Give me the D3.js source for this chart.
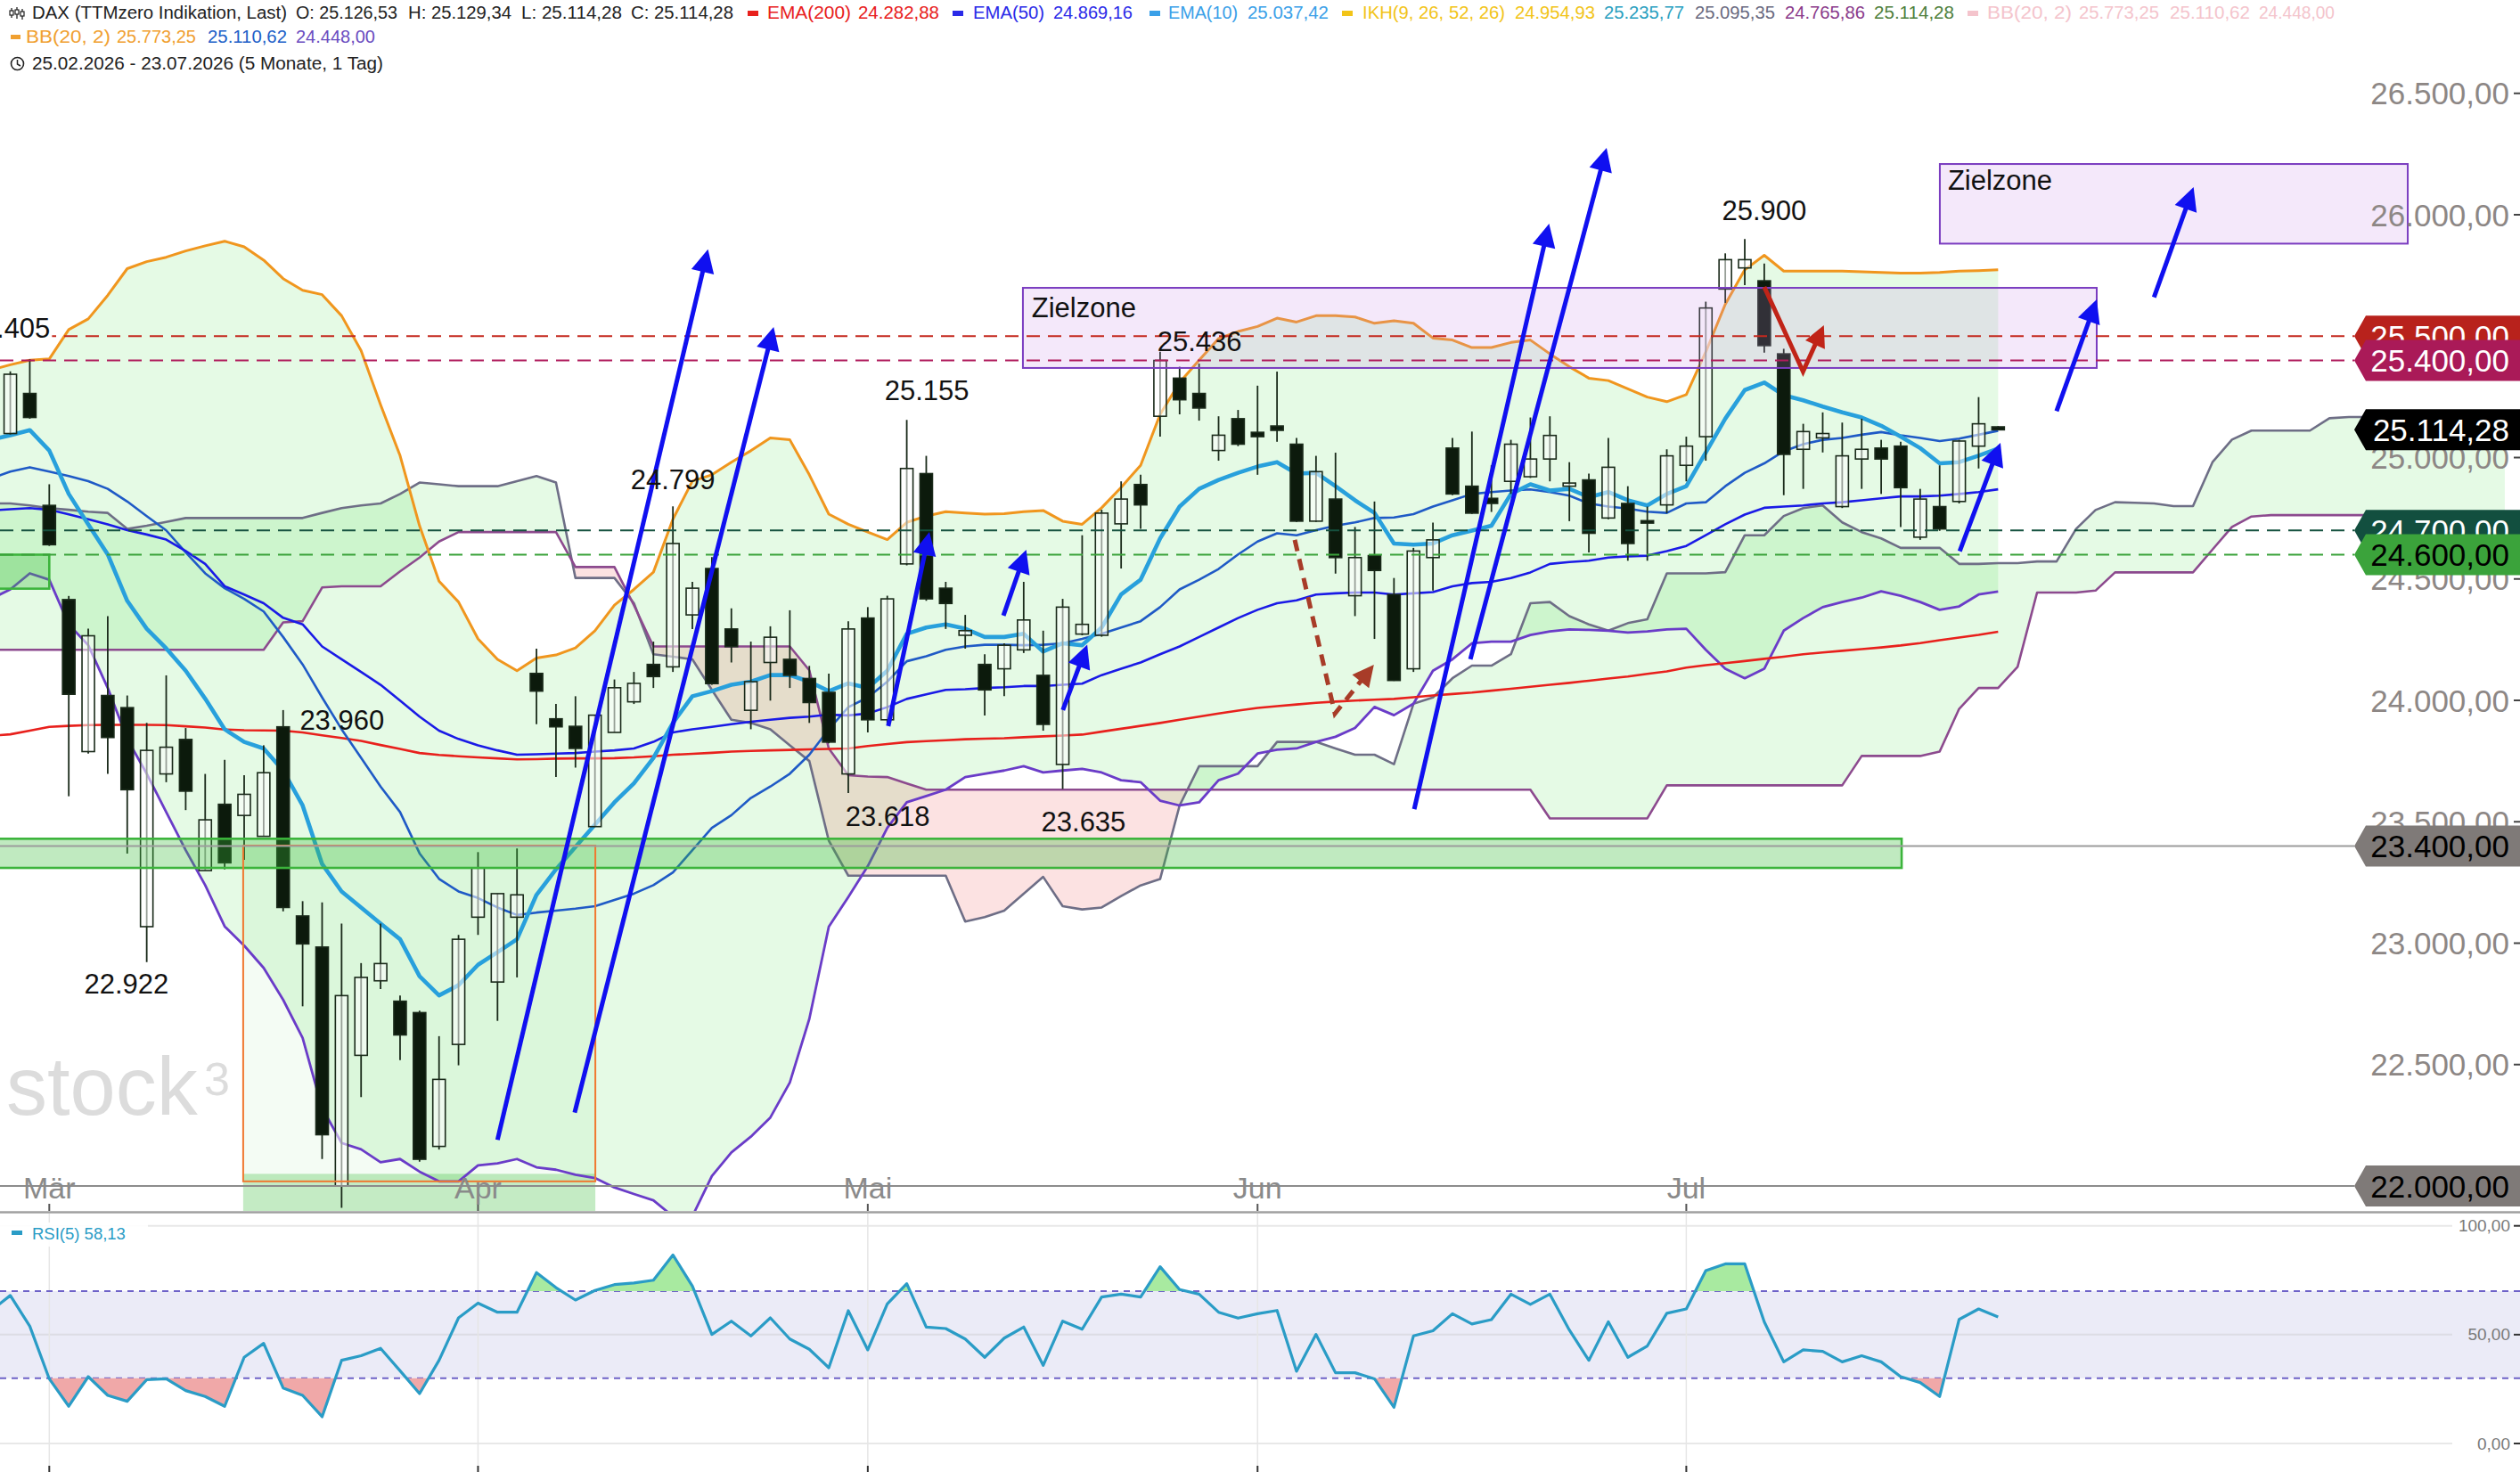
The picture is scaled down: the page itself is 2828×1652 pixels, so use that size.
<!DOCTYPE html>
<html><head><meta charset="utf-8">
<script src="https://cdn.jsdelivr.net/npm/d3@7/dist/d3.min.js"></script>
<style>html,body{margin:0;padding:0;background:#fff;overflow:hidden}svg{display:block;font-family:"Liberation Sans",Arial,sans-serif}</style>
</head><body>
<svg id="chart" width="2828" height="1652" viewBox="0 0 2828 1652"></svg>
<script>
// ================= DATA =================
const monthTicks = [{label:"Mär",i:3},{label:"Apr",i:25},{label:"Mai",i:45},{label:"Jun",i:65},{label:"Jul",i:87}];

const opens = [25200,25099,25264,24803,24415,23789,24020,23970,23068,23697, 23839,23299,23572,23526,23440,23891,23112,22984,22000,22538, 22845,22761,22714,22163,22583,23107,22840,23107,24111,23924, 23893,23480,23868,23994,24148,24138,24352,24543,24294,23959, 24156,24169,24090,24033,23697,24339,23920,24562,24934,24462, 24268,24148,24130,24208,24103,23736,24273,24268,24727,24889, 25170,25327,25264,25029,25160,25104,25130,25055,24738,24829, 24431,24596,24436,24130,24588,25039,24882,24832,24902,24921, 24994,24882,24908,24751,24811,24740,24805,24968,25086,25694, 25781,25728,25427,25034,25081,24798,24994,25039,25047,24672, 24798,24819,25047,25126.53];
const highs = [25380,25355,25405,24890,24430,24295,24347,24020,23907,24103, 23886,23697,23755,23692,23815,23960,23173,23168,23081,22918, 23081,22784,22722,22617,23034,23375,23204,23390,24213,23985, 24017,23939,24086,24117,24242,24799,24488,24590,24379,24242, 24305,24371,24142,24110,24326,24384,24431,25155,25007,24488, 24352,24190,24235,24488,24287,24418,24680,24785,24902,24929, 25436,25374,25387,25170,25196,25296,25354,25081,25007,25020, 24714,24819,24504,24628,24732,25081,25107,24968,25073,25165, 25170,24981,24934,25081,24882,24798,25034,25086,25642,25841, 25900,25799,25448,25139,25186,25144,25160,25073,25065,24871, 24968,25073,25249,25129.34];
const lows = [25150,25095,25160,24636,23605,23781,23697,23369,22922,23663, 23548,23299,23304,23343,23440,23131,22740,22111,21910,22366, 22811,22518,22100,22150,22497,23034,22680,22859,23902,23684, 23723,23480,23868,23985,24051,24117,24294,24064,24156,23881, 23999,24051,23907,23823,23618,23868,23907,24556,24410,24294, 24213,23938,24017,24195,23875,23635,24268,24262,24543,24706, 25086,25178,25152,24987,25047,24929,25065,24735,24735,24522, 24347,24253,24080,24117,24452,24845,24768,24776,24850,24916, 24902,24738,24609,24746,24575,24575,24771,24902,24987,25637, 25710,25432,24845,24871,25021,24792,24871,24850,24714,24661, 24698,24811,24955,25114.28];
const closes = [25300,25343,25165,24641,24025,24266,23847,23632,23794,23807, 23626,23508,23331,23613,23702,23147,22997,22211,22784,22859, 22916,22622,22110,22439,23016,23309,23204,23199,24038,23891, 23802,23939,24052,24070,24098,24646,24462,24069,24221,24077, 24260,24103,23991,23828,24294,23920,24418,24955,24418,24399, 24287,24043,24227,24331,23901,24384,24313,24771,24829,24805, 25400,25238,25204,25092,25055,25086,25112,24738,24942,24588, 24588,24535,24082,24615,24661,24850,24771,24811,25055,24994, 25091,24895,24688,24960,24646,24730,25007,25047,25616,25815, 25815,25461,25013,25107,25099,25007,25034,24994,24876,24829, 24706,25068,25139,25114.28];

const ema200 = [23854,23860,23875,23891,23895,23898,23899,23899,23899,23898, 23893,23888,23880,23877,23876,23875,23868,23856,23845,23833, 23816,23800,23783,23775,23770,23765,23761,23757,23758,23760, 23761,23761,23762,23765,23770,23776,23780,23784,23789,23792, 23794,23796,23798,23800,23802,23812,23820,23828,23832,23836, 23840,23842,23844,23848,23852,23855,23859,23871,23883,23895, 23907,23920,23933,23946,23958,23969,23976,23983,23990,23995, 23999,24003,24006,24013,24020,24026,24032,24040,24048,24056, 24064,24072,24081,24090,24098,24109,24119,24135,24145,24153, 24162,24171,24180,24190,24197,24204,24211,24218,24226,24236, 24248,24259,24270,24282.88];
const ema50 = [24782,24787,24792,24785,24766,24746,24725,24701,24683,24662, 24615,24562,24470,24436,24400,24340,24313,24222,24169,24117, 24064,23999,23933,23875,23841,23815,23794,23776,23778,23781, 23783,23789,23794,23802,23829,23868,23881,23891,23902,23912, 23920,23928,23933,23941,23938,23946,23972,24006,24025,24043, 24046,24051,24054,24059,24059,24064,24069,24104,24130,24156, 24190,24222,24261,24300,24339,24373,24400,24412,24436,24441, 24444,24444,24436,24441,24446,24470,24483,24488,24504,24527, 24562,24570,24575,24588,24593,24596,24615,24636,24680,24725, 24765,24793,24798,24803,24811,24816,24824,24832,24840,24840, 24843,24850,24858,24869.16];
const ema10 = [25073,25092,25113,25029,24850,24725,24601,24410,24295,24214, 24122,24007,23881,23829,23802,23711,23567,23326,23213,23147, 23081,23016,22864,22785,22827,22911,22963,23016,23199,23304, 23396,23488,23580,23658,23763,23907,24017,24038,24064,24077, 24104,24104,24077,24038,24070,24051,24122,24274,24300,24313, 24295,24261,24261,24274,24201,24235,24227,24300,24436,24497, 24667,24798,24871,24908,24937,24963,24981,24934,24937,24882, 24824,24772,24646,24641,24646,24680,24699,24719,24850,24890, 24864,24871,24837,24858,24824,24803,24850,24882,25021,25160, 25278,25309,25257,25236,25210,25186,25165,25131,25086,25039, 24976,24981,25008,25037.42];
const bbUpper = [25361,25382,25401,25406,25527,25571,25668,25778,25807,25825, 25851,25872,25891,25868,25813,25737,25689,25671,25584,25440, 25217,25008,24719,24491,24405,24253,24169,24122,24174,24187, 24216,24287,24392,24457,24528,24746,24903,24929,24981,25028, 25081,25073,24929,24767,24725,24693,24662,24733,24759,24777, 24772,24767,24769,24777,24782,24738,24725,24793,24877,24968, 25178,25309,25401,25490,25519,25540,25574,25558,25584,25584, 25579,25553,25563,25553,25492,25484,25453,25453,25474,25484, 25427,25374,25327,25317,25283,25249,25230,25259,25435,25631, 25773,25833,25768,25768,25768,25768,25765,25762,25760,25760, 25762,25768,25770,25773.25];
const bbMiddle = [24913,24942,24960,24942,24924,24903,24871,24819,24759,24700, 24610,24523,24462,24418,24366,24261,24148,24012,23881,23763, 23645,23540,23370,23265,23213,23186,23147,23116,23126,23134, 23142,23152,23178,23204,23239,23291,23383,23475,23527,23598, 23645,23698,23776,23881,23972,24012,24077,24161,24182,24208, 24222,24229,24229,24227,24229,24235,24253,24274,24300,24326, 24384,24457,24497,24541,24601,24654,24688,24680,24701,24719, 24733,24751,24753,24767,24798,24824,24850,24858,24864,24869, 24858,24843,24811,24798,24790,24777,24772,24811,24816,24882, 24937,24976,25026,25055,25073,25081,25094,25105,25092,25081, 25068,25078,25094,25110.62];
const bbLower = [24418,24457,24523,24497,24313,24227,24051,23841,23698,23540, 23383,23239,23069,22990,22898,22767,22610,22321,22177,22151, 22098,22111,22059,22019,22019,22085,22093,22111,22077,22067, 22046,22033,21994,21967,21941,21875,21875,22041,22138,22203, 22282,22426,22688,23068,23190,23317,23475,23580,23606,23632, 23684,23698,23711,23729,23703,23711,23718,23703,23671,23663, 23587,23567,23580,23671,23698,23781,23797,23802,23829,23850, 23886,23973,23939,23986,24122,24169,24235,24242,24242,24269, 24284,24292,24290,24287,24279,24284,24292,24295,24208,24130, 24091,24130,24287,24339,24384,24405,24423,24449,24431,24405, 24373,24387,24436,24448.00];
// Ichimoku cloud (shifted 26 bars forward -> 130 values)
const senkouA = [24811,24811,24803,24792,24785,24777,24772,24706,24719,24735, 24751,24751,24751,24751,24751,24751,24751,24772,24792,24803, 24811,24850,24897,24890,24882,24882,24882,24903,24924,24897, 24504,24504,24504,24400,24190,24180,24169,24043,23920,23907, 23881,23815,23750,23422,23278,23278,23278,23278,23278,23278, 23089,23107,23134,23204,23273,23152,23139,23147,23194,23238, 23264,23567,23729,23729,23729,23729,23829,23829,23829,23802, 23776,23776,23737,23986,24012,24091,24143,24143,24190,24400, 24405,24347,24313,24287,24318,24334,24523,24523,24523,24528, 24680,24680,24759,24792,24803,24733,24693,24667,24628,24628, 24628,24562,24562,24565,24565,24572,24572,24706,24784,24816, 24814,24811,24800,24800,24981,25074,25111,25111,25111,25111, 25162,25167,25167,25167,25167,25167,25167,25167,25167,25167];
const senkouB = [24208,24208,24208,24208,24208,24208,24208,24208,24208,24208, 24208,24208,24208,24208,24208,24321,24326,24465,24470,24470, 24470,24531,24588,24654,24693,24693,24693,24693,24693,24693, 24549,24549,24549,24392,24222,24222,24222,24222,24222,24222, 24222,24222,24124,23802,23692,23686,23684,23658,23632,23632, 23632,23632,23632,23632,23632,23632,23632,23632,23632,23632, 23632,23632,23632,23632,23632,23632,23632,23632,23632,23632, 23632,23632,23632,23632,23632,23632,23632,23632,23632,23632, 23514,23514,23514,23514,23514,23514,23650,23650,23650,23650, 23650,23650,23650,23650,23650,23650,23771,23771,23771,23771, 23789,23965,24051,24051,24138,24444,24444,24444,24452,24527, 24527,24527,24527,24527,24621,24714,24757,24763,24763,24763, 24763,24763,24763,24763,24763,24763,24763,24763,24763,24766];
const rsi5 = [61,68.0,53.9,29.7,17.1,30.7,22.1,19.4,29.3,29.7, 24.3,21.6,17.1,39.6,46.0,25.5,22.1,12.3,38.2,40.3, 43.7,33.4,22.9,38.2,57.7,64.5,60.3,60.3,78.5,71.6, 65.9,70.3,73.0,73.7,75.0,86.6,72.3,50.1,56.2,49.4, 57.7,48.0,43.3,34.8,61.0,43.0,64.1,73.4,53.5,52.8, 48.0,39.6,48.4,53.5,35.9,56.2,52.5,67.3,68.6,67.3, 81.2,70.7,68.6,60.3,57.6,59.6,61.1,33.2,50.1,32.5, 32.5,29.7,16.6,49.4,51.8,59.6,54.9,56.9,68.6,63.9, 68.6,52.1,38.2,55.9,39.6,44.8,59.8,61.8,79.4,82.5, 82.5,55.9,37.5,43.0,42.3,37.5,40.3,37.5,30.7,28.0, 21.6,57.0,61.8,58.13];

const yTicks = [26500,26000,25500,25000,24500,24000,23500,23000,22500,22000];
const rsiTicks = [100,50,0];
const rsiLevels = [30,70];

const priceLines = [
  {v:25500, color:"#c4281e", dash:true},
  {v:25400, color:"#b01c5c", dash:true},
  {v:24700, color:"#15513f", dash:true},
  {v:24600, color:"#3aa23a", dash:true},
  {v:23400, color:"#9c9c9c", dash:false},
  {v:22000, color:"#8c8c8c", dash:false}
];
const priceBoxes = [
  {v:25500, fill:"#b8221c", txt:"#fff"},
  {v:25400, fill:"#aa1a58", txt:"#fff"},
  {v:25114.28, fill:"#000", txt:"#fff"},
  {v:24700, fill:"#124f3f", txt:"#fff"},
  {v:24600, fill:"#3ba33b", txt:"#000"},
  {v:23400, fill:"#7f7a78", txt:"#000"},
  {v:22000, fill:"#7f7a78", txt:"#000"}
];
const swingLabels = [
  {t:"25.405", i:0.88, v:25494, bg:true},
  {t:"22.922", i:6.96, v:22793},
  {t:"23.960", i:18.02, v:23879},
  {t:"24.799", i:35.0, v:24870},
  {t:"25.155", i:48.03, v:25237},
  {t:"23.618", i:46.02, v:23483},
  {t:"23.635", i:56.07, v:23461},
  {t:"25.436", i:62.02, v:25439},
  {t:"25.900", i:91.0, v:25978}
];
const targetZones = [
  {i0:52.96, i1:108.06, v0:25369, v1:25699, label:"Zielzone", li:53.41, lv:25578},
  {i0:100.01, i1:124.02, v0:25881, v1:26209, label:"Zielzone", li:100.42, lv:26103}
];
const greenBands = [
  {i0:-2, i1:98.05, v0:23310, v1:23430},
  {i0:-2, i1:3.0, v0:24460, v1:24600}
];
const orangeBox = {i0:12.95, i1:31.02, v0:22019, v1:23402};
const bottomStrip = {i0:12.95, i1:31.02, v0:21850, v1:22050};
const blueArrows = [
  [[26.0,22190],[36.8,25858]],
  [[29.96,22302],[40.17,25538]],
  [[46.05,23894],[48.16,24694]],
  [[51.96,24349],[53.13,24620]],
  [[55.01,23960],[56.26,24229]],
  [[73.04,23552],[79.96,25963]],
  [[75.92,24169],[82.91,26275]],
  [[101.03,24614],[103.12,25061]],
  [[106.0,25191],[108.06,25651]],
  [[111.0,25660],[113.03,26114]]
];
const redArrow = [[91.0,25703],[92.99,25354],[94.06,25545]];
const brownArrow = [[66.91,24661],[68.97,23945],[70.97,24147]];

// ================= SETUP =================
const W = 2828, H = 1652, PANEL_BOTTOM = 1360, TIP = 2642;
const svg = d3.select("#chart");
const x = d3.scaleLinear().domain([3, 87]).range([55.3, 1892.4]);
const y = d3.scaleLinear().domain([22000, 26500]).range([1331, 104.75]);
const yR = d3.scaleLinear().domain([0, 100]).range([1620, 1375.7]);
const de = d3.formatLocale({decimal:",", thousands:".", grouping:[3], currency:["",""]});
const fmt2 = de.format(",.2f");
const idx = d3.range(opens.length);
const idxC = d3.range(senkouA.length);

svg.append("rect").attr("width",W).attr("height",H).attr("fill","#fff");
const defs = svg.append("defs");
defs.append("clipPath").attr("id","clipMain").append("rect").attr("x",0).attr("y",0).attr("width",W).attr("height",PANEL_BOTTOM-1);
defs.append("clipPath").attr("id","clipRsi").append("rect").attr("x",0).attr("y",PANEL_BOTTOM+2).attr("width",W).attr("height",H-PANEL_BOTTOM-2);

function bandPolys(xs, a, b) {
  const polys = []; let top = [], bot = [];
  for (let k = 0; k < xs.length; k++) {
    const d = a[k] - b[k];
    if (k > 0) {
      const dp = a[k-1] - b[k-1];
      if ((dp > 0) !== (d > 0) && dp !== d) {
        const t = dp / (dp - d);
        const xi = xs[k-1] + t * (xs[k] - xs[k-1]);
        const vi = a[k-1] + t * (a[k] - a[k-1]);
        top.push([xi, vi]); bot.push([xi, vi]);
        if (dp > 0) { polys.push(top.concat(bot.slice().reverse())); top = []; bot = []; }
      }
    }
    if (d > 0) { top.push([xs[k], a[k]]); bot.push([xs[k], b[k]]); }
  }
  if (top.length) polys.push(top.concat(bot.slice().reverse()));
  return polys;
}
const polyD = (poly, ys) => "M" + poly.map(p => x(p[0]).toFixed(2) + "," + ys(p[1]).toFixed(2)).join("L") + "Z";

// ================= MAIN PANEL =================
const main = svg.append("g").attr("clip-path","url(#clipMain)");

// watermark
const wm = main.append("text").attr("x",7).attr("y",1251).attr("fill","#dcdcdc").attr("font-size",92);
wm.append("tspan").text("stock");
main.append("text").attr("x",229).attr("y",1229).attr("fill","#dcdcdc").attr("font-size",52).text("3");

// Bollinger fill
main.append("path")
  .attr("d", d3.area().x(i => x(i)).y0(i => y(bbLower[i])).y1(i => y(bbUpper[i]))(idx))
  .attr("fill","rgba(20,210,20,0.11)");

// Cloud fills
bandPolys(idxC, senkouA, senkouB).forEach(p => main.append("path").attr("d", polyD(p, y)).attr("fill","rgba(20,210,20,0.11)"));
bandPolys(idxC, senkouB, senkouA).forEach(p => main.append("path").attr("d", polyD(p, y)).attr("fill","rgba(235,30,30,0.13)"));

// orange box fill + bottom strip
main.append("rect").attr("x",x(orangeBox.i0)).attr("y",y(orangeBox.v1)).attr("width",x(orangeBox.i1)-x(orangeBox.i0)).attr("height",y(orangeBox.v0)-y(orangeBox.v1)).attr("fill","rgba(60,200,60,0.06)");
main.append("rect").attr("x",x(bottomStrip.i0)).attr("y",y(bottomStrip.v1)).attr("width",x(bottomStrip.i1)-x(bottomStrip.i0)).attr("height",y(bottomStrip.v0)-y(bottomStrip.v1)).attr("fill","rgba(60,190,60,0.3)");

// lines
function drawLine(vals, color, w) {
  main.append("path").attr("d", d3.line().x((d,i) => x(i)).y(d => y(d))(vals))
    .attr("fill","none").attr("stroke",color).attr("stroke-width",w).attr("stroke-linejoin","round");
}
drawLine(senkouA, "#6e6e86", 2.6);
drawLine(senkouB, "#8c4a8e", 2.6);
drawLine(bbLower, "#6a3cc8", 2.8);
drawLine(bbUpper, "#f0961e", 3);
drawLine(ema200, "#e8201c", 2.6);
drawLine(bbMiddle, "#1f5ac6", 2.6);
drawLine(ema50, "#1a1ae6", 2.6);
drawLine(ema10, "#28a0dc", 4.6);

// month ticks on main bottom
monthTicks.forEach(m => {
  main.append("line").attr("x1",x(m.i)).attr("x2",x(m.i)).attr("y1",1351).attr("y2",1360).attr("stroke","#555").attr("stroke-width",2);
});

// candles
const cg = main.append("g");
idx.forEach(i => {
  const up = closes[i] >= opens[i];
  cg.append("line").attr("x1",x(i)).attr("x2",x(i)).attr("y1",y(highs[i])).attr("y2",y(lows[i]))
    .attr("stroke","#1a2a1a").attr("stroke-width",1.8);
  const top = y(Math.max(opens[i], closes[i])), bot = y(Math.min(opens[i], closes[i]));
  cg.append("rect").attr("x",x(i)-7).attr("y",top).attr("width",14).attr("height",Math.max(2.5, bot-top))
    .attr("fill", up ? "rgba(255,255,255,0.55)" : "#0c1a0c").attr("stroke","#1a2a1a").attr("stroke-width",1.6);
});

// green bands
greenBands.forEach(b => {
  main.append("rect").attr("x",x(b.i0)).attr("y",y(b.v1)).attr("width",x(b.i1)-x(b.i0)).attr("height",y(b.v0)-y(b.v1))
    .attr("fill","rgba(60,190,60,0.32)").attr("stroke","#3cb43c").attr("stroke-width",2.6);
});
// orange box outline
main.append("rect").attr("x",x(orangeBox.i0)).attr("y",y(orangeBox.v1)).attr("width",x(orangeBox.i1)-x(orangeBox.i0)).attr("height",y(orangeBox.v0)-y(orangeBox.v1))
  .attr("fill","none").attr("stroke","#f07830").attr("stroke-width",2);
// target zones
targetZones.forEach(z => {
  main.append("rect").attr("x",x(z.i0)).attr("y",y(z.v1)).attr("width",x(z.i1)-x(z.i0)).attr("height",y(z.v0)-y(z.v1))
    .attr("fill","rgba(200,140,230,0.2)").attr("stroke","#7a3cc0").attr("stroke-width",2);
  main.append("text").attr("x",x(z.li)).attr("y",y(z.lv)).attr("font-size",31).attr("fill","#111").text(z.label);
});

// price lines
priceLines.forEach(p => {
  main.append("line").attr("x1",0).attr("x2",TIP).attr("y1",y(p.v)).attr("y2",y(p.v))
    .attr("stroke",p.color).attr("stroke-width",p.dash ? 2.2 : 1.8)
    .attr("stroke-dasharray", p.dash ? "15,9" : null);
});

// arrows
function arrow(pts, color, w, dash, hl, hw) {
  const P = pts.map(p => [x(p[0]), y(p[1])]);
  const n = P.length, [x1,y1] = P[n-1], [x0,y0] = P[n-2];
  const L = Math.hypot(x1-x0, y1-y0), ux = (x1-x0)/L, uy = (y1-y0)/L;
  const bx = x1 - ux*hl, by = y1 - uy*hl;
  const lp = P.slice(0, n-1).concat([[bx+ux*3, by+uy*3]]);
  main.append("path").attr("d", d3.line()(lp)).attr("fill","none").attr("stroke",color).attr("stroke-width",w)
    .attr("stroke-dasharray", dash || null).attr("stroke-linejoin","miter");
  main.append("path").attr("d", `M${x1},${y1}L${bx-uy*hw},${by+ux*hw}L${bx+uy*hw},${by-ux*hw}Z`).attr("fill",color);
}
blueArrows.forEach(a => arrow(a, "#1010f0", 5, null, 26, 13));
arrow(redArrow, "#c02418", 5, null, 24, 12);
arrow(brownArrow, "#a83c28", 5, "13,9", 24, 12);

// swing labels
swingLabels.forEach(l => {
  const t = main.append("text").attr("x",x(l.i)).attr("y",y(l.v)).attr("text-anchor","middle").attr("font-size",31).attr("fill","#111").text(l.t);
  if (l.bg) {
    const bb = t.node().getBBox();
    main.insert("rect", () => t.node()).attr("x",bb.x-2).attr("y",bb.y+2).attr("width",bb.width+4).attr("height",bb.height-4).attr("fill","#fff");
  }
});

// month labels
monthTicks.forEach(m => {
  main.append("text").attr("x",x(m.i)).attr("y",1345).attr("text-anchor","middle").attr("font-size",34).attr("fill","#8a8a8a").text(m.label);
});

// panel separator
svg.append("line").attr("x1",0).attr("x2",W).attr("y1",PANEL_BOTTOM+0.5).attr("y2",PANEL_BOTTOM+0.5).attr("stroke","#a0a0a0").attr("stroke-width",2.5);

// y axis labels
yTicks.forEach(v => {
  svg.append("text").attr("x",2816).attr("y",y(v)+12.5).attr("text-anchor","end").attr("font-size",35).attr("fill","#8d8785").text(fmt2(v));
  svg.append("line").attr("x1",2821).attr("x2",W).attr("y1",y(v)).attr("y2",y(v)).attr("stroke","#444").attr("stroke-width",2);
});
// price boxes
priceBoxes.forEach(b => {
  const c = y(b.v), h = 23;
  svg.append("path").attr("d",`M${TIP},${c}L${TIP+13},${c-h}L${W},${c-h}L${W},${c+h}L${TIP+13},${c+h}Z`).attr("fill",b.fill);
  svg.append("text").attr("x",2816).attr("y",c+12.5).attr("text-anchor","end").attr("font-size",35).attr("fill",b.txt).text(fmt2(b.v));
});

// ================= RSI PANEL =================
const rg = svg.append("g").attr("clip-path","url(#clipRsi)");
rg.append("rect").attr("x",0).attr("width",W).attr("y",yR(70)).attr("height",yR(30)-yR(70)).attr("fill","#ebebf7");
rsiTicks.forEach(v => rg.append("line").attr("x1",0).attr("x2",2752).attr("y1",yR(v)).attr("y2",yR(v)).attr("stroke", v===50 ? "#dcdce4" : "#e8e8e8").attr("stroke-width",2));
monthTicks.forEach(m => rg.append("line").attr("x1",x(m.i)).attr("x2",x(m.i)).attr("y1",PANEL_BOTTOM+2).attr("y2",1646).attr("stroke","#e6e6e6").attr("stroke-width",1.5));
rsiLevels.forEach(v => rg.append("line").attr("x1",0).attr("x2",W).attr("y1",yR(v)).attr("y2",yR(v)).attr("stroke","#6e62c8").attr("stroke-width",2).attr("stroke-dasharray","7,6"));
const c70 = idx.map(() => 70), c30 = idx.map(() => 30);
bandPolys(idx, rsi5, c70).forEach(p => rg.append("path").attr("d", polyD(p, yR)).attr("fill","#a8eaa0"));
bandPolys(idx, c30, rsi5).forEach(p => rg.append("path").attr("d", polyD(p, yR)).attr("fill","#f0a8a8"));
rg.append("path").attr("d", d3.line().x((d,i) => x(i)).y(d => yR(d))(rsi5)).attr("fill","none").attr("stroke","#2a9cc6").attr("stroke-width",3.2).attr("stroke-linejoin","round");
rg.append("rect").attr("x",0).attr("y",1372).attr("width",166).attr("height",27).attr("fill","#fff").attr("fill-opacity",0.9);
rg.append("rect").attr("x",13).attr("y",1381).attr("width",12).attr("height",5).attr("fill","#2a9cc6");
rg.append("text").attr("x",36).attr("y",1391).attr("font-size",18.5).attr("fill","#2a9cc6").text("RSI(5) " + de.format(".2f")(rsi5[rsi5.length-1]));
rsiTicks.forEach(v => {
  svg.append("text").attr("x",2817).attr("y",yR(v)+6.5).attr("text-anchor","end").attr("font-size",19).attr("fill","#7a7a7a").text(de.format(".2f")(v));
  svg.append("line").attr("x1",2821).attr("x2",W).attr("y1",yR(v)).attr("y2",yR(v)).attr("stroke","#333").attr("stroke-width",2);
});
monthTicks.forEach(m => svg.append("line").attr("x1",x(m.i)).attr("x2",x(m.i)).attr("y1",1645).attr("y2",H).attr("stroke","#333").attr("stroke-width",2));

// ================= HEADER =================
const hdr = svg.append("g").attr("font-size",19.5).style("white-space","pre");
const line1 = [
  ["DAX (TTMzero Indikation, Last)",36,286,"#222"],["O: 25.126,53",332,114,"#222"],["H: 25.129,34",458,116,"#222"],
  ["L: 25.114,28",585,113,"#222"],["C: 25.114,28",708,115,"#222"],
  ["EMA(200)",861,94,"#e8201c"],["24.282,88",963,91,"#e8201c"],
  ["EMA(50)",1092,80,"#2a2ae8"],["24.869,16",1182,89,"#2a2ae8"],
  ["EMA(10)",1311,78,"#3aa0e8"],["25.037,42",1400,91,"#3aa0e8"],
  ["IKH(9, 26, 52, 26)",1529,160,"#f2c418"],["24.954,93",1700,90,"#f2c418"],["25.235,77",1800,90,"#2aa0c0"],
  ["25.095,35",1902,90,"#6a6a80"],["24.765,86",2003,90,"#8a3a8a"],["25.114,28",2103,90,"#4f7f3c"],
  ["BB(20, 2)",2230,95,"#f4c4cc"],["25.773,25",2333,90,"#f4c4cc"],["25.110,62",2435,90,"#f4c4cc"],["24.448,00",2535,85,"#f4c4cc"]
];
const line2 = [["BB(20, 2)",29,95,"#f0a030"],["25.773,25",131,89,"#f0a030"],["25.110,62",233,89,"#2060c8"],["24.448,00",332,89,"#6a4cc0"]];
const line3 = [["25.02.2026 - 23.07.2026  (5 Monate, 1 Tag)",36,394,"#222"]];
function hline(items, yy) {
  items.forEach(([t, xx, w, c]) => hdr.append("text").attr("x",xx).attr("y",yy).attr("fill",c)
    .attr("textLength",w).attr("lengthAdjust","spacingAndGlyphs").text(t));
}
hline(line1, 21); hline(line2, 48); hline(line3, 78);
const sw = [[839,"#e8201c",1],[1069,"#2a2ae8",1],[1290,"#3aa0e8",1],[1506,"#f2c418",1],[2208,"#f4c4cc",1]];
sw.forEach(([sx,c]) => hdr.append("rect").attr("x",sx).attr("y",12).attr("width",12).attr("height",6).attr("fill",c));
hdr.append("rect").attr("x",12).attr("y",39).attr("width",11).attr("height",5).attr("fill","#f0a030");
// candle icon
[[13,9,20,12,17],[19,8,21,11,16],[25,10,22,13,18]].forEach(([cx,t,b,bt,bb]) => {
  hdr.append("line").attr("x1",cx).attr("x2",cx).attr("y1",t).attr("y2",b).attr("stroke","#222").attr("stroke-width",1.3);
  hdr.append("rect").attr("x",cx-2).attr("y",bt).attr("width",4).attr("height",bb-bt).attr("fill","#fff").attr("stroke","#222").attr("stroke-width",1.2);
});
// clock icon
hdr.append("circle").attr("cx",19.5).attr("cy",71.5).attr("r",7).attr("fill","none").attr("stroke","#222").attr("stroke-width",1.6);
hdr.append("path").attr("d","M19.5,67 L19.5,72 L23,74").attr("fill","none").attr("stroke","#222").attr("stroke-width",1.5);
</script>
</body></html>
